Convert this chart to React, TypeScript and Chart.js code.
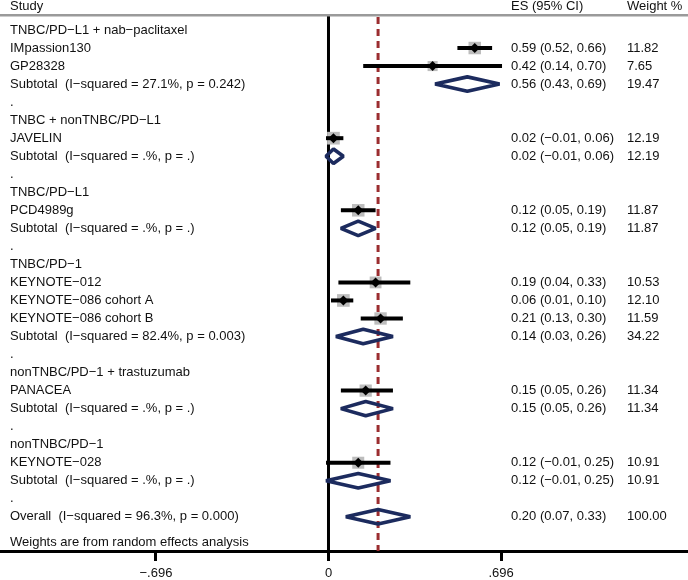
import React, { useEffect, useRef } from "react";
import { Chart, registerables } from "chart.js";

Chart.register(...registerables);

// ---- data ----
const groupTitles = [
  "TNBC/PD−L1 + nab−paclitaxel",
  "TNBC + nonTNBC/PD−L1",
  "TNBC/PD−L1",
  "TNBC/PD−1",
  "nonTNBC/PD−1 + trastuzumab",
  "nonTNBC/PD−1",
];
const groupRows = [0, 5, 9, 13, 19, 23];
const spacerRows = [4, 8, 12, 18, 22, 26];

const studyNames = [
  "IMpassion130",
  "GP28328",
  "JAVELIN",
  "PCD4989g",
  "KEYNOTE−012",
  "KEYNOTE−086 cohort A",
  "KEYNOTE−086 cohort B",
  "PANACEA",
  "KEYNOTE−028",
];
const studyRows = [1, 2, 6, 10, 14, 15, 16, 20, 24];
const studyES = [0.59, 0.42, 0.02, 0.12, 0.19, 0.06, 0.21, 0.15, 0.12];
const studyLo = [0.52, 0.14, -0.01, 0.05, 0.04, 0.01, 0.13, 0.05, -0.01];
const studyHi = [0.66, 0.7, 0.06, 0.19, 0.33, 0.1, 0.3, 0.26, 0.25];
const studyWeight = [11.82, 7.65, 12.19, 11.87, 10.53, 12.1, 11.59, 11.34, 10.91];

const pooledLabels = [
  "Subtotal  (I−squared = 27.1%, p = 0.242)",
  "Subtotal  (I−squared = .%, p = .)",
  "Subtotal  (I−squared = .%, p = .)",
  "Subtotal  (I−squared = 82.4%, p = 0.003)",
  "Subtotal  (I−squared = .%, p = .)",
  "Subtotal  (I−squared = .%, p = .)",
  "Overall  (I−squared = 96.3%, p = 0.000)",
];
const pooledRows = [3, 7, 11, 17, 21, 25, 27];
const pooledES = [0.56, 0.02, 0.12, 0.14, 0.15, 0.12, 0.2];
const pooledLo = [0.43, -0.01, 0.05, 0.03, 0.05, -0.01, 0.07];
const pooledHi = [0.69, 0.06, 0.19, 0.26, 0.26, 0.25, 0.33];
const pooledWeight = [19.47, 12.19, 11.87, 34.22, 11.34, 10.91, 100.0];

const overallES = 0.2;
const tickValues = [-0.696, 0, 0.696];
const tickLabels = ["−.696", "0", ".696"];
const footnote = "Weights are from random effects analysis";
const headers = ["Study", "ES (95% CI)", "Weight %"];

// ---- styling ----
const FONT = '13px "Liberation Sans", Arial, sans-serif';
const NAVY = "#1c2b5e";
const DASH = "#9b2d30";
const X_MIN = -1.3251;
const X_MAX = 1.4502;
const Y_MIN = -1.664;
const Y_MAX = 28.896;
const DIAMOND_HALF = 0.4;

const fmt = (v: number) => v.toFixed(2).replace("-", "−");
const esText = (e: number, l: number, h: number) => `${fmt(e)} (${fmt(l)}, ${fmt(h)})`;

const forestPlugin = {
  id: "forestText",
  beforeDatasetsDraw(chart: any) {
    const { ctx, scales, chartArea } = chart;
    const x0 = scales.x.getPixelForValue(0);
    const xo = scales.x.getPixelForValue(overallES);
    ctx.save();
    ctx.strokeStyle = "#000";
    ctx.lineWidth = 3;
    ctx.beginPath();
    ctx.moveTo(x0, 16);
    ctx.lineTo(x0, chartArea.bottom);
    ctx.stroke();
    ctx.strokeStyle = DASH;
    ctx.setLineDash([7, 5]);
    ctx.beginPath();
    ctx.moveTo(xo, 17);
    ctx.lineTo(xo, chartArea.bottom);
    ctx.stroke();
    ctx.restore();
  },
  afterDraw(chart: any) {
    const { ctx, scales } = chart;
    const y = (r: number) => scales.y.getPixelForValue(r);
    const LX = 10;
    const EX = 511;
    const WX = 627;
    ctx.save();
    ctx.font = FONT;
    ctx.fillStyle = "#111";
    ctx.textBaseline = "middle";
    ctx.textAlign = "left";
    // header
    ctx.fillText(headers[0], LX, 6);
    ctx.fillText(headers[1], EX, 6);
    ctx.fillText(headers[2], WX, 6);
    ctx.fillStyle = "#9a9a9a";
    ctx.fillRect(0, 14, 688, 2.5);
    ctx.fillStyle = "#111";
    groupTitles.forEach((t, i) => ctx.fillText(t, LX, y(groupRows[i])));
    spacerRows.forEach((r) => ctx.fillText(".", LX, y(r)));
    studyNames.forEach((t, i) => {
      const yy = y(studyRows[i]);
      ctx.fillText(t, LX, yy);
      ctx.fillText(esText(studyES[i], studyLo[i], studyHi[i]), EX, yy);
      ctx.fillText(studyWeight[i].toFixed(2), WX, yy);
    });
    pooledLabels.forEach((t, i) => {
      const yy = y(pooledRows[i]);
      ctx.fillText(t, LX, yy);
      ctx.fillText(esText(pooledES[i], pooledLo[i], pooledHi[i]), EX, yy);
      ctx.fillText(pooledWeight[i].toFixed(2), WX, yy);
    });
    ctx.fillText(footnote, LX, 542);
    ctx.restore();
  },
};

export default function App() {
  const ref = useRef<HTMLCanvasElement>(null);
  useEffect(() => {
    if (!ref.current) return;
    const boxSide = (w: number) => 12.5 * Math.sqrt(w / 11.82);
    const datasets: any[] = [];
    // point estimates (black diamonds)
    datasets.push({
      type: "scatter",
      data: studyES.map((e, i) => ({ x: e, y: studyRows[i] })),
      pointStyle: "rectRot",
      pointRadius: 5,
      backgroundColor: "#000",
      borderWidth: 0,
      order: 0,
    });
    // CI lines
    studyES.forEach((_, i) => {
      datasets.push({
        type: "scatter",
        data: [
          { x: studyLo[i], y: studyRows[i] },
          { x: studyHi[i], y: studyRows[i] },
        ],
        showLine: true,
        borderColor: "#000",
        borderWidth: 4,
        borderCapStyle: "butt",
        pointRadius: 0,
        order: 1,
      });
    });
    // weight boxes
    datasets.push({
      type: "scatter",
      data: studyES.map((e, i) => ({ x: e, y: studyRows[i] })),
      pointStyle: "rect",
      pointRadius: studyWeight.map((w) => boxSide(w) / Math.SQRT2),
      backgroundColor: "#bdbdbd",
      borderWidth: 0,
      order: 2,
    });
    // pooled diamonds
    pooledES.forEach((e, i) => {
      const r = pooledRows[i];
      datasets.push({
        type: "scatter",
        data: [
          { x: pooledLo[i], y: r },
          { x: e, y: r - DIAMOND_HALF },
          { x: pooledHi[i], y: r },
          { x: e, y: r + DIAMOND_HALF },
          { x: pooledLo[i], y: r },
          { x: e, y: r - DIAMOND_HALF },
        ],
        showLine: true,
        borderColor: NAVY,
        borderWidth: 3.6,
        borderJoinStyle: "bevel",
        pointRadius: 0,
        fill: false,
        order: 0,
      });
    });

    const chart = new Chart(ref.current, {
      type: "scatter",
      data: { datasets },
      options: {
        animation: false,
        responsive: false,
        layout: { padding: 0, autoPadding: false },
        plugins: { legend: { display: false }, tooltip: { enabled: false } },
        scales: {
          x: {
            type: "linear",
            min: X_MIN,
            max: X_MAX,
            afterBuildTicks: (scale: any) => {
              scale.ticks = tickValues.map((v) => ({ value: v }));
            },
            afterFit: (scale: any) => {
              scale.height = 29;
            },
            ticks: {
              autoSkip: false,
              maxRotation: 0,
              padding: 5,
              color: "#111",
              font: { family: '"Liberation Sans", Arial, sans-serif', size: 13 },
              callback: (v: any) => {
                const idx = tickValues.findIndex((t) => Math.abs(t - v) < 1e-6);
                return idx >= 0 ? tickLabels[idx] : "";
              },
            },
            grid: {
              display: true,
              drawOnChartArea: false,
              drawTicks: true,
              tickLength: 10,
              tickWidth: 3,
              tickColor: "#000",
            },
            border: { display: true, color: "#000", width: 3 },
          },
          y: {
            type: "linear",
            display: false,
            min: Y_MIN,
            max: Y_MAX,
            reverse: true,
          },
        },
      },
      plugins: [forestPlugin],
    });
    return () => chart.destroy();
  }, []);

  return (
    <div style={{ position: "absolute", left: 0, top: 0, width: 688, height: 580, background: "#fff" }}>
      <canvas ref={ref} width={688} height={580} style={{ display: "block" }} />
    </div>
  );
}
